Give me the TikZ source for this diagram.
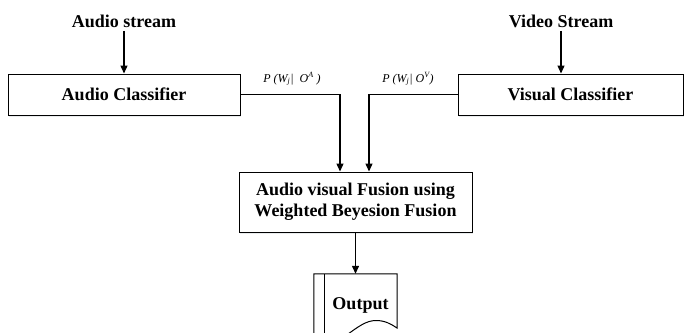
\documentclass[tikz,border=0pt]{standalone}
\usepackage{fontspec}
\setmainfont{Liberation Serif}
\usetikzlibrary{arrows.meta,shadows}
\begin{document}
\begin{tikzpicture}[x=1pt,y=-1pt,
  box/.style={draw=black, line width=1pt, fill=white, rectangle, align=center,
    font=\fontsize{18}{21}\selectfont\bfseries,
    drop shadow={shadow xshift=1.2pt, shadow yshift=-1.8pt, fill=cyan!10!gray!25, opacity=0.7}},
  title/.style={font=\fontsize{18}{21}\selectfont\bfseries},
  lbl/.style={font=\fontsize{12}{14}\selectfont\itshape},
  conn/.style={line width=1.3pt},
  arr/.style={conn, -{Triangle[length=8pt,width=7pt]}}]
\useasboundingbox (0,0) rectangle (684,332);
\clip (0,0) rectangle (684,332);

\node[title] (aud) at (124,21) {Audio stream};
\node[title] (vid) at (561,21) {Video Stream};
\node[box, minimum width=232pt, minimum height=41pt] (ac) at (124,94.5) {Audio Classifier};
\node[box, minimum width=225pt, minimum height=41pt] (vc) at (570.5,94.5) {Visual Classifier};
\node[box, minimum width=233pt, minimum height=60pt] (fus) at (355.5,202)
  {Audio visual Fusion using\\Weighted Beyesion Fusion};

\node[lbl] (la) at (292,79) {P (W\textsubscript{j}|\ \ O\textsuperscript{A} )};
\node[lbl] (lv) at (408,79) {P (W\textsubscript{j}| O\textsuperscript{V})};

\coordinate (ja) at (340,94.5);
\coordinate (jv) at (369,94.5);

\draw[arr] (aud.south) -- (aud |- ac.north);
\draw[arr] (vid.south) -- (vid |- vc.north);
\draw[arr] (ac.east) -- (ja) -- (ja |- fus.north);
\draw[arr] (vc.west) -- (jv) -- (jv |- fus.north);

% output document shape
\node[minimum width=83pt, minimum height=80pt, inner sep=0pt] (outshape) at (355.5,314) {};
\coordinate (inl) at (324,274);
\draw[line width=1pt, fill=white]
  (outshape.north west) -- (314,346)
  .. controls (328,344) and (338,340) .. (348,334)
  .. controls (358,327) and (366,320.5) .. (376,320.5)
  .. controls (385,320.5) and (391,324) .. (397,328)
  -- (outshape.north east) -- cycle;
\draw[line width=1pt] (inl) -- (inl |- 0,340);
\node[title] (out) at (360.5,305) {Output};
\draw[arr] (fus.south) -- (outshape.north);
\end{tikzpicture}
\end{document}
